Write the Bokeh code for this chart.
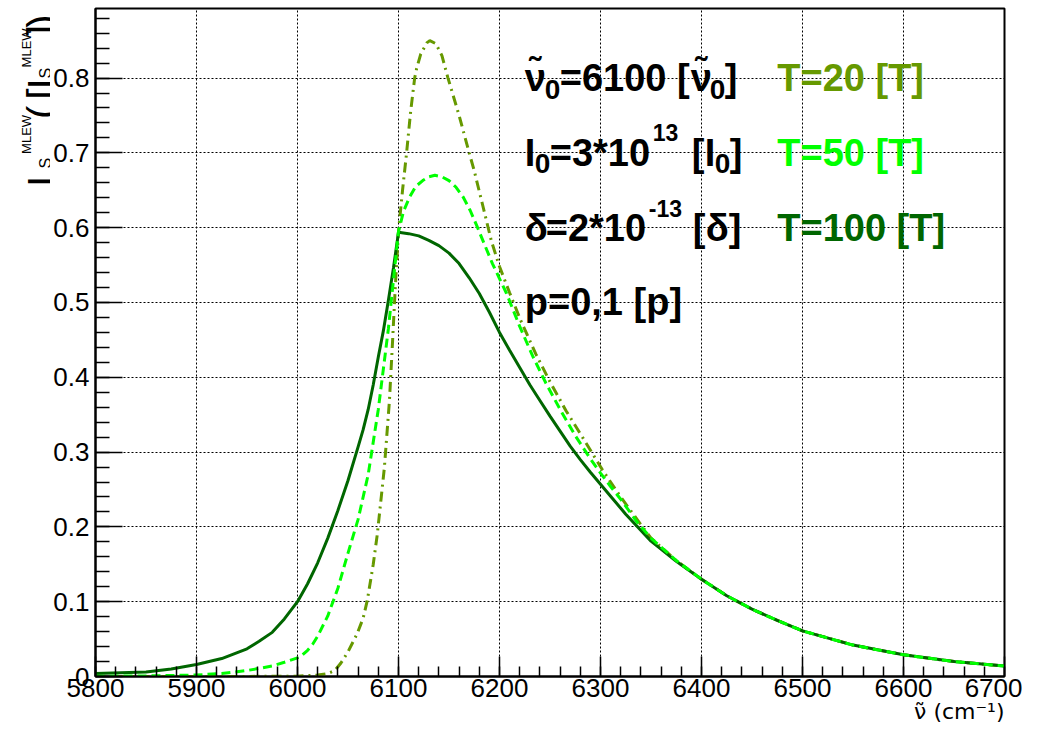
import math
from bokeh.plotting import figure
from bokeh.layouts import row
from bokeh.models import Title, SingleIntervalTicker, CustomJSTickFormatter, Range1d, ColumnDataSource
from bokeh.core.properties import value
from bokeh.embed import file_html
from bokeh.resources import INLINE

# ---- data ----
x_t20 = [5800, 5900, 5950, 6000, 6020, 6030, 6037, 6043, 6050, 6059, 6065, 6069, 6075, 6079,
         6086, 6091, 6094, 6097, 6100, 6104, 6108, 6112, 6116, 6118, 6122, 6128, 6131, 6137, 6143,
         6149, 6160, 6170, 6175, 6183, 6192, 6200, 6210, 6221, 6236, 6250, 6266, 6283, 6302, 6320,
         6340, 6350, 6375, 6400, 6425, 6450, 6475, 6500, 6550, 6600, 6650, 6700]
y_t20 = [0.0, 0.0, 0.0001, 0.0005, 0.002, 0.004, 0.008, 0.018, 0.033, 0.057, 0.078, 0.101, 0.150, 0.190,
         0.279, 0.368, 0.445, 0.525, 0.595, 0.650, 0.700, 0.755, 0.800, 0.813, 0.832, 0.847, 0.850, 0.846, 0.830,
         0.800, 0.750, 0.700, 0.676, 0.632, 0.582, 0.548, 0.513, 0.476, 0.431, 0.394, 0.355, 0.318, 0.276, 0.240,
         0.203, 0.185, 0.155, 0.130, 0.108, 0.090, 0.075, 0.061, 0.042, 0.029, 0.020, 0.014]

x_t50 = [5800, 5850, 5900, 5925, 5950, 5975, 5987, 6000, 6005, 6010, 6015, 6020, 6030, 6040, 6050,
         6060, 6070, 6080, 6090, 6095, 6100, 6105, 6111, 6117, 6124, 6130, 6136, 6143, 6150, 6157,
         6164, 6171, 6178, 6185, 6193, 6200, 6207, 6220, 6233, 6246, 6260, 6275, 6290, 6300, 6310,
         6320, 6337, 6350, 6375, 6400, 6425, 6450, 6475, 6500, 6550, 6600, 6650, 6700]
y_t50 = [0.0003, 0.0008, 0.002, 0.004, 0.008, 0.014, 0.019, 0.025, 0.029, 0.035, 0.043, 0.054, 0.081, 0.118, 0.165,
         0.210, 0.270, 0.357, 0.465, 0.530, 0.595, 0.622, 0.641, 0.655, 0.663, 0.668, 0.670, 0.668, 0.663, 0.654,
         0.641, 0.623, 0.601, 0.578, 0.552, 0.532, 0.512, 0.468, 0.428, 0.392, 0.357, 0.322, 0.291, 0.272, 0.254,
         0.237, 0.205, 0.185, 0.155, 0.130, 0.108, 0.090, 0.075, 0.061, 0.042, 0.029, 0.020, 0.014]

x_t100 = [5800, 5825, 5850, 5875, 5900, 5925, 5950, 5962, 5975, 5987, 6000, 6010, 6020, 6030, 6040,
          6050, 6060, 6065, 6070, 6075, 6080, 6085, 6090, 6095, 6100, 6110, 6120, 6130, 6140, 6150,
          6160, 6170, 6180, 6190, 6200, 6210, 6220, 6230, 6240, 6250, 6260, 6270, 6280, 6290, 6300,
          6310, 6325, 6350, 6375, 6400, 6425, 6450, 6475, 6500, 6550, 6600, 6650, 6700]
y_t100 = [0.004, 0.005, 0.006, 0.010, 0.016, 0.024, 0.037, 0.047, 0.059, 0.077, 0.100, 0.124, 0.152, 0.185, 0.222,
          0.262, 0.307, 0.330, 0.357, 0.390, 0.427, 0.462, 0.503, 0.546, 0.594, 0.592, 0.589, 0.583, 0.576, 0.566,
          0.552, 0.533, 0.512, 0.487, 0.460, 0.436, 0.413, 0.390, 0.369, 0.348, 0.328, 0.308, 0.290, 0.273, 0.257,
          0.241, 0.217, 0.181, 0.154, 0.130, 0.108, 0.090, 0.075, 0.061, 0.042, 0.029, 0.020, 0.014]

series_colors = ["#669900", "#00ff00", "#006600"]

# parameter block, split into pieces so sub-/superscripts can be sized and shifted
param_anchor_x = 6225
param_text = ["ν̃", "0", "=6100 [", "ν̃", "0", "]",
              "I", "0", "=3*10", "13", "[", "I", "0", "]",
              "δ", "=2*10", "-13", "[", "δ", "]",
              "p=0,1 [p]"]
param_line_y = [0.8, 0.8, 0.8, 0.8, 0.8, 0.8,
                0.7, 0.7, 0.7, 0.7, 0.7, 0.7, 0.7, 0.7,
                0.6, 0.6, 0.6, 0.6, 0.6, 0.6,
                0.5]
param_dx = [0, 20, 35, 166, 185, 200,
            0, 10, 25, 128, 167, 180, 190, 205,
            0, 21, 124, 168, 181, 204,
            0]
param_dy = [0, 11, 0, 0, 11, 0,
            0, 11, 0, -20, 0, 0, 11, 0,
            0, 0, -19, 0, 0, 0,
            0]
param_size = ["38px", "28px", "38px", "38px", "28px", "38px",
              "38px", "28px", "38px", "23px", "38px", "38px", "28px", "38px",
              "38px", "38px", "23px", "38px", "38px", "38px",
              "38px"]

temp_texts = ["T=20 [T]", "T=50 [T]", "T=100 [T]"]
temp_x = [6475, 6475, 6475]
temp_y = [0.8, 0.7, 0.6]

x_title = "ν̃ (cm⁻¹)"
# y title pieces: I_S^MLEW ( [I_S^MLEW] )
ytitle_text = ["I", "S", "MLEW", "(", "[", "I", "S", "MLEW", "]", ")"]
ytitle_size = ["40px", "16px", "13px", "40px", "40px", "40px", "16px", "13px", "40px", "40px"]
# baseline (px from left) and start (px from top) of each rotated piece
ytitle_bx = [41, 45, 26, 41, 41, 41, 45, 26, 41, 41]
ytitle_by = [194, 174, 158, 120, 99, 88, 76, 64, 30, 21]

X0, X1 = 5800, 6700
Y0, Y1 = 0.0, 0.893

FONT = "Liberation Sans"
LEFT_W = 50
H = 726

# ---- left strip carrying the rotated y title ----
left = figure(output_backend="svg", toolbar_location=None, width=LEFT_W, height=H,
              x_range=Range1d(0, LEFT_W), y_range=Range1d(0, H),
              x_axis_type=None, y_axis_type=None, min_border=0)
left.outline_line_color = None
left.background_fill_color = "white"
left.border_fill_color = "white"
left.text(x=ytitle_bx, y=[H - v for v in ytitle_by], text=ytitle_text, angle=math.pi / 2,
          text_font=value(FONT), text_font_size=ytitle_size, text_color="black",
          text_align="left", text_baseline="alphabetic")

# ---- main plot ----
p = figure(output_backend="svg", toolbar_location=None,
           frame_width=909, frame_height=668,
           min_border_left=94 - LEFT_W, min_border_right=18, min_border_top=8, min_border_bottom=50,
           x_range=Range1d(X0, X1), y_range=Range1d(Y0, Y1))

p.background_fill_color = "white"
p.border_fill_color = "white"
p.outline_line_color = "black"
p.outline_line_width = 2

for g in (p.xgrid, p.ygrid):
    g.grid_line_color = "black"
    g.grid_line_dash = "2 2"
    g.grid_line_width = 1

p.xaxis.ticker = SingleIntervalTicker(interval=100, num_minor_ticks=5)
p.yaxis.ticker = SingleIntervalTicker(interval=0.1, num_minor_ticks=5)
p.yaxis.formatter = CustomJSTickFormatter(code="return Number(tick.toFixed(2)).toString();")
for ax in (p.xaxis, p.yaxis):
    ax.axis_line_width = 2
    ax.axis_line_color = "black"
    ax.major_tick_line_color = "black"
    ax.minor_tick_line_color = "black"
    ax.major_tick_line_width = 1.5
    ax.minor_tick_line_width = 1.5
    ax.major_tick_out = 0
    ax.minor_tick_out = 0
    ax.major_label_text_font = FONT
    ax.major_label_text_font_size = "26px"
    ax.major_label_text_color = "black"
p.xaxis.major_tick_in = 20
p.xaxis.minor_tick_in = 10
p.yaxis.major_tick_in = 27
p.yaxis.minor_tick_in = 14
p.xaxis.major_label_standoff = 2
p.yaxis.major_label_standoff = 6

# curves (drawing order: T=20, T=100, T=50)
p.line(x_t20, y_t20, line_color=series_colors[0], line_width=3, line_dash="10 5 2 5")
p.line(x_t100, y_t100, line_color=series_colors[2], line_width=3)
p.line(x_t50, y_t50, line_color=series_colors[1], line_width=3, line_dash="9 5")

param_src = ColumnDataSource(dict(
    x=[param_anchor_x] * len(param_text), y=param_line_y, text=param_text,
    dx=param_dx, dy=param_dy, size=param_size))
p.text(x="x", y="y", text="text", x_offset="dx", y_offset="dy", text_font_size="size",
       source=param_src, text_font=value(FONT), text_font_style="bold",
       text_color="black", text_baseline="alphabetic", text_align="left")
p.text(x=temp_x, y=temp_y, text=temp_texts, text_font=value(FONT), text_font_style="bold",
       text_font_size="38px", text_color=series_colors, text_baseline="alphabetic", text_align="left")

# x title, right-aligned under the axis
p.add_layout(Title(text=x_title, align="right", vertical_align="top", standoff=-2,
                   text_font="DejaVu Sans", text_font_size="22px", text_font_style="normal",
                   text_color="black"), "below")

layout = row(left, p)
open("out.html", "w").write(file_html(layout, INLINE))
